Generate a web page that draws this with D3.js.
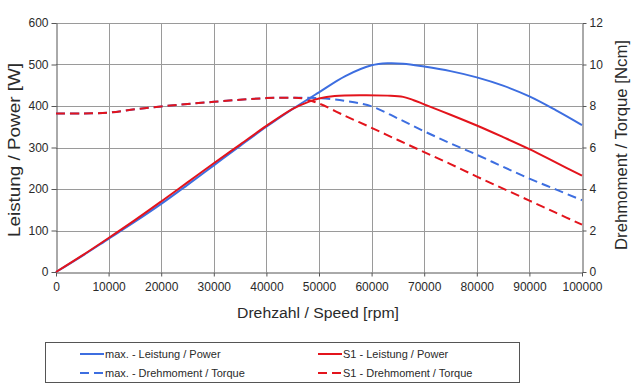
<!DOCTYPE html>
<meta charset="utf-8">
<style>
body { margin: 0; background: #fff; }
text { font-family: "Liberation Sans", Arial, sans-serif; fill: #2a2a2a; }
</style>
<body>
<script src="https://cdn.jsdelivr.net/npm/d3@7"></script>
<script>
var width = 641,
	height = 392,
	plotLeft = 56,
	plotRight = 582,
	plotTop = 23,
	plotBottom = 272;

// speed [rpm]
var maxPowerRpm = [0, 5000, 10000, 15000, 20000, 25000, 30000, 35000, 40000, 45000, 50000, 55000, 60000, 63000, 66000, 70000, 75000, 80000, 85000, 90000, 95000, 100000];
var maxPower =    [0, 39, 80, 121, 164, 210, 257, 304, 350, 393, 433, 472, 498, 503, 502, 495, 484, 469, 449, 423, 390, 354];

var s1PowerRpm = [0, 5000, 10000, 15000, 20000, 25000, 30000, 35000, 40000, 45000, 48000, 50000, 53000, 58000, 63000, 66000, 68000, 70000, 75000, 80000, 85000, 90000, 95000, 100000];
var s1Power =    [0, 40, 82, 125, 170, 216, 262, 307, 352, 393, 410, 418, 424, 426, 425, 422, 414, 404, 379, 353, 325, 296, 264, 232];

var maxTorqueRpm = [0, 5000, 10000, 15000, 20000, 25000, 30000, 35000, 40000, 45000, 50000, 55000, 60000, 65000, 70000, 75000, 80000, 85000, 90000, 95000, 100000];
var maxTorque =    [7.64, 7.64, 7.68, 7.84, 7.98, 8.1, 8.2, 8.3, 8.38, 8.4, 8.38, 8.24, 7.98, 7.4, 6.78, 6.2, 5.65, 5.07, 4.5, 3.98, 3.46];

var s1TorqueRpm = [0, 5000, 10000, 15000, 20000, 25000, 30000, 35000, 40000, 45000, 47000, 50000, 55000, 60000, 65000, 70000, 75000, 80000, 85000, 90000, 95000, 100000];
var s1Torque =    [7.64, 7.64, 7.68, 7.84, 7.98, 8.1, 8.2, 8.3, 8.38, 8.4, 8.36, 8.12, 7.52, 6.95, 6.36, 5.78, 5.2, 4.6, 4.02, 3.44, 2.86, 2.28];

var powerTicks = [0, 100, 200, 300, 400, 500, 600];
var torqueTicks = [0, 2, 4, 6, 8, 10, 12];
var speedTicks = [0, 10000, 20000, 30000, 40000, 50000, 60000, 70000, 80000, 90000, 100000];

var blue = "#3d6ee0",
	red = "#e3141c";

var svg = d3.select("body").append("svg")
			.attr("width", width)
			.attr("height", height);

var x = d3.scaleLinear().domain([0, 100000]).range([plotLeft, plotRight]);
var yP = d3.scaleLinear().domain([0, 600]).range([plotBottom, plotTop]);
var yT = d3.scaleLinear().domain([0, 12]).range([plotBottom, plotTop]);

// grid
svg.append("g").selectAll("line").data(speedTicks.slice(1, -1)).enter().append("line")
	.attr("x1", d => Math.round(x(d)) + 0.5).attr("x2", d => Math.round(x(d)) + 0.5)
	.attr("y1", plotTop).attr("y2", plotBottom)
	.style("stroke", "#9a9a9a");
svg.append("g").selectAll("line").data(powerTicks.slice(1)).enter().append("line")
	.attr("x1", plotLeft).attr("x2", plotRight)
	.attr("y1", d => Math.round(yP(d)) + 0.5).attr("y2", d => Math.round(yP(d)) + 0.5)
	.style("stroke", "#9a9a9a");

// axes
function styleAxis(g) {
	g.select(".domain").style("stroke", "#555");
	g.selectAll(".tick line").style("stroke", "#555");
	g.selectAll("text").style("font-size", "12px").style("fill", "#2a2a2a")
		.style("font-family", "Liberation Sans, Arial, sans-serif");
}

var fmt = d3.format("d");

svg.append("g")
	.attr("transform", "translate(0," + (plotBottom + 0.5) + ")")
	.call(d3.axisBottom(x).tickValues(speedTicks).tickFormat(fmt).tickSize(4).tickSizeOuter(0).tickPadding(6))
	.call(styleAxis);

svg.append("g")
	.attr("transform", "translate(" + (plotLeft + 0.5) + ",0)")
	.call(d3.axisLeft(yP).tickValues(powerTicks).tickFormat(fmt).tickSize(5).tickSizeOuter(0).tickPadding(3))
	.call(styleAxis);

svg.append("g")
	.attr("transform", "translate(" + (plotRight + 0.5) + ",0)")
	.call(d3.axisRight(yT).tickValues(torqueTicks).tickFormat(fmt).tickSize(4).tickSizeOuter(0).tickPadding(3))
	.call(styleAxis);

// axis titles
svg.append("text")
	.attr("transform", "translate(14,150)rotate(-90)")
	.attr("text-anchor", "middle")
	.attr("dy", "0.35em")
	.style("font-size", "16.5px")
	.attr("textLength", 174)
	.attr("lengthAdjust", "spacingAndGlyphs")
	.text("Leistung / Power [W]");

svg.append("text")
	.attr("transform", "translate(621,145)rotate(-90)")
	.attr("text-anchor", "middle")
	.attr("dy", "0.35em")
	.style("font-size", "16px")
	.attr("textLength", 210)
	.attr("lengthAdjust", "spacingAndGlyphs")
	.text("Drehmoment / Torque [Ncm]");

svg.append("text")
	.attr("x", 318)
	.attr("y", 318)
	.attr("text-anchor", "middle")
	.style("font-size", "15.5px")
	.attr("textLength", 162)
	.attr("lengthAdjust", "spacingAndGlyphs")
	.text("Drehzahl / Speed [rpm]");

// series
var series = [
	{ rpm: maxTorqueRpm, val: maxTorque, y: yT, color: blue, dash: "9,5" },
	{ rpm: s1TorqueRpm, val: s1Torque, y: yT, color: red, dash: "9,5" },
	{ rpm: maxPowerRpm, val: maxPower, y: yP, color: blue, dash: null },
	{ rpm: s1PowerRpm, val: s1Power, y: yP, color: red, dash: null }
];

series.forEach(function(s) {
	var line = d3.line()
		.x(d => x(d[0]))
		.y(d => s.y(d[1]))
		.curve(d3.curveCatmullRom.alpha(0.5));
	svg.append("path")
		.datum(s.rpm.map((r, i) => [r, s.val[i]]))
		.attr("d", line)
		.style("fill", "none")
		.style("stroke", s.color)
		.style("stroke-width", 2)
		.style("stroke-dasharray", s.dash);
});

// legend
var legendItems = [
	{ label: "max. - Leistung / Power", color: blue, dash: null, lx: 80, ly: 354 },
	{ label: "S1 - Leistung / Power", color: red, dash: null, lx: 318, ly: 354 },
	{ label: "max. - Drehmoment / Torque", color: blue, dash: "9,5", lx: 80, ly: 373 },
	{ label: "S1 - Drehmoment / Torque", color: red, dash: "9,5", lx: 318, ly: 373 }
];

svg.append("rect")
	.attr("x", 45.5).attr("y", 342.5)
	.attr("width", 474).attr("height", 40)
	.style("fill", "#fff")
	.style("stroke", "#555");

var lg = svg.append("g").selectAll("g").data(legendItems).enter().append("g");
lg.append("line")
	.attr("x1", d => d.lx).attr("x2", d => d.lx + 24)
	.attr("y1", d => d.ly).attr("y2", d => d.ly)
	.style("stroke", d => d.color)
	.style("stroke-width", 2)
	.style("stroke-dasharray", d => d.dash);
lg.append("text")
	.attr("x", d => d.lx + 25)
	.attr("y", d => d.ly)
	.attr("dy", "0.35em")
	.style("font-size", "11px")
	.text(d => d.label);
</script>
</body>
